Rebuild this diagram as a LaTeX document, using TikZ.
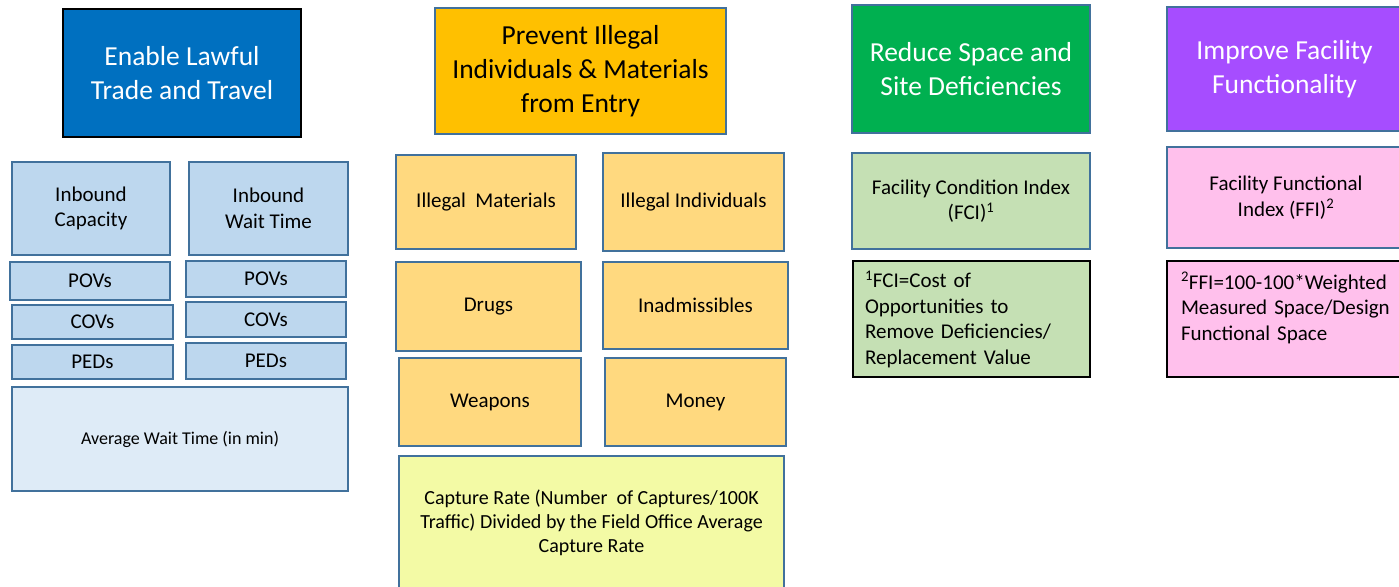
\documentclass[tikz,border=0pt]{standalone}
\usepackage{fontspec}
\setmainfont{Carlito}
\definecolor{lawblue}{HTML}{0070C0}
\definecolor{stopgold}{HTML}{FFC000}
\definecolor{sitegreen}{HTML}{00B050}
\definecolor{funcpurple}{HTML}{A64DFF}
\definecolor{edgeblue}{HTML}{41719C}
\definecolor{lightblue}{HTML}{BDD7EE}
\definecolor{paleblue}{HTML}{DEEBF7}
\definecolor{lightgold}{HTML}{FFD97F}
\definecolor{paleyellow}{HTML}{F3FAA5}
\definecolor{lightgreen}{HTML}{C5E0B4}
\definecolor{lightpink}{HTML}{FFC0EC}

\begin{document}
\begin{tikzpicture}[x=1pt, y=-1pt,
  box/.style={draw=edgeblue, line width=2pt, inner sep=0pt, align=center},
  goal/.style={box, font=\fontsize{27.5}{34}\selectfont},
  metric/.style={box, font=\fontsize{21}{25.5}\selectfont},
  note/.style={draw=black, line width=2pt, inner xsep=12pt, inner ysep=0pt, align=left,
    font=\fontsize{21}{25.5}\selectfont}]
\clip (0,0) rectangle (1399,586);
\fill[white] (0,0) rectangle (1399,586);

% goals
\node[goal, draw=black, line width=2.5pt, fill=lawblue, text=white, minimum width=238pt, minimum height=128pt] (lawful) at (182,73) {Enable Lawful\\Trade and Travel};
\node[goal, fill=stopgold, minimum width=291pt, minimum height=126pt] (prevent) at (580.5,71) {Prevent Illegal\\Individuals \& Materials\\from Entry};
\node[goal, fill=sitegreen, text=white, minimum width=238pt, minimum height=128pt] (reduce) at (971,69) {Reduce Space and\\Site Deficiencies};
\node[goal, fill=funcpurple, text=white, minimum width=235pt, minimum height=124pt] (improve) at (1284.5,69) {Improve Facility\\Functionality};

% lawful trade and travel
\node[metric, fill=lightblue, minimum width=158pt, minimum height=93pt] (capacity) at (91,208.5) {Inbound\\Capacity};
\node[metric, fill=lightblue, minimum width=159pt, minimum height=93pt] (waittime) at (268.5,208.5) {Inbound\\Wait Time};
\node[metric, fill=lightblue, minimum width=160pt, minimum height=38pt] (povcap) at (90,281) {POVs};
\node[metric, fill=lightblue, minimum width=160pt, minimum height=36pt] (povwait) at (266,279) {POVs};
\node[metric, fill=lightblue, minimum width=161pt, minimum height=34pt] (covcap) at (92.5,322) {COVs};
\node[metric, fill=lightblue, minimum width=160pt, minimum height=35pt] (covwait) at (266,319.5) {COVs};
\node[metric, fill=lightblue, minimum width=161pt, minimum height=34pt] (pedcap) at (92.5,362) {PEDs};
\node[metric, fill=lightblue, minimum width=160pt, minimum height=36pt] (pedwait) at (266,361) {PEDs};
\node[box, fill=paleblue, font=\fontsize{18}{22}\selectfont, minimum width=336pt, minimum height=104pt] (avgwait) at (180,439) {Average Wait Time (in min)};

% illegal entry
\node[metric, fill=lightgold, minimum width=180pt, minimum height=94pt] (materials) at (486,202) {Illegal\ \ Materials};
\node[metric, fill=lightgold, minimum width=181pt, minimum height=98pt] (individuals) at (693.5,202) {Illegal Individuals};
\node[metric, fill=lightgold, minimum width=185pt, minimum height=89pt] (drugs) at (488.5,306.5) {Drugs};
\node[metric, fill=lightgold, minimum width=185pt, minimum height=87pt] (inadmiss) at (695.5,305.5) {Inadmissibles};
\node[metric, fill=lightgold, minimum width=182pt, minimum height=88pt] (weapons) at (490,402) {Weapons};
\node[metric, fill=lightgold, minimum width=181pt, minimum height=88pt] (money) at (695.5,402) {Money};
\node[box, fill=paleyellow, font=\fontsize{20}{24}\selectfont, minimum width=385pt, minimum height=134pt] (capture) at (591.5,523) {Capture Rate (Number\ \ of Captures/100K\\Traffic) Divided by the Field Office Average\\Capture Rate};

% facility indexes
\node[metric, fill=lightgreen, minimum width=238pt, minimum height=96pt] (fci) at (971,201) {Facility Condition Index\\(FCI)\textsuperscript{1}};
\node[note, fill=lightgreen, text width=213pt, minimum height=116pt] (fcinote) at (971.5,319) {\textsuperscript{1}FCI=Cost of\\Opportunities to\\Remove Deficiencies/\\Replacement Value};
\node[metric, fill=lightpink, minimum width=238pt, minimum height=101pt] (ffi) at (1286,197.5) {Facility Functional\\Index (FFI)\textsuperscript{2}};
\node[note, fill=lightpink, inner xsep=14pt, text width=210pt, minimum height=116pt] (ffinote) at (1286,319) {\textsuperscript{2}FFI=100-100*Weighted\\Measured Space/Design\\Functional Space\\\mbox{}};
\end{tikzpicture}
\end{document}
